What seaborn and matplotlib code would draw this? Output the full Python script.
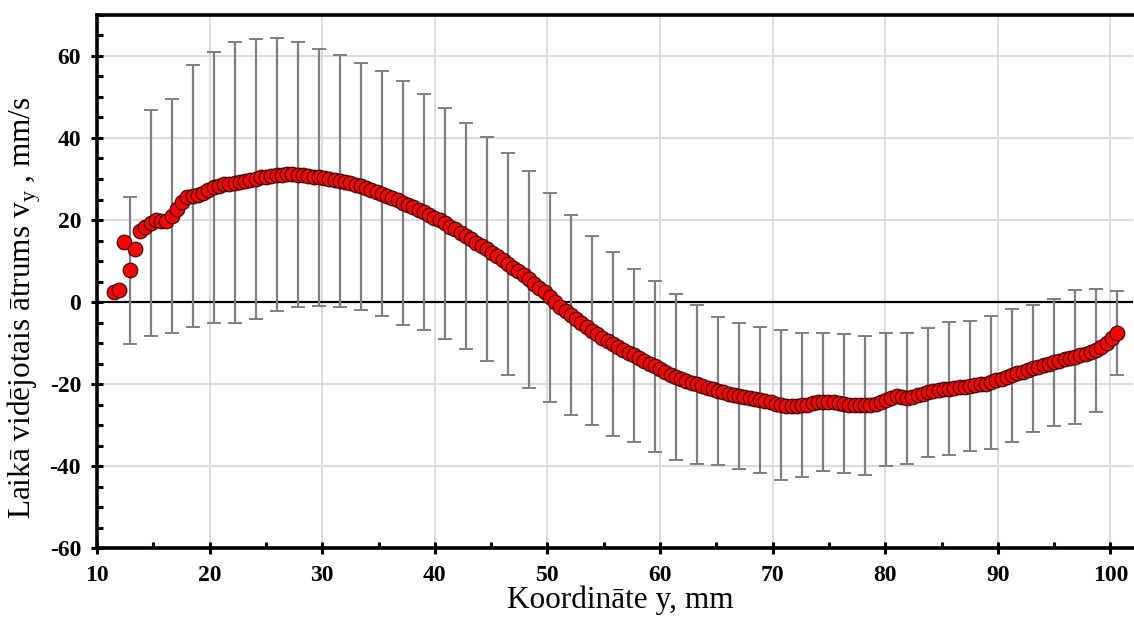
import numpy as np
import pandas as pd
import matplotlib
matplotlib.use("Agg")
import matplotlib.pyplot as plt
import seaborn as sns
from matplotlib.ticker import MultipleLocator

# Measurement grid: first coordinate, step and count (mm)
x_start = 11.5
x_step = 0.4665
# Time-averaged velocity v_y at each coordinate, mm/s
vy = [
    2.5, 3.0, 14.7, 7.7, 13.0, 17.4, 18.2, 19.3, 20.1, 19.8,
    19.7, 21.0, 22.7, 24.3, 25.6, 25.9, 26.2, 26.6, 27.2, 28.0,
    28.4, 28.7, 28.9, 29.1, 29.3, 29.6, 29.8, 30.0, 30.4, 30.6,
    30.8, 31.0, 31.05, 31.1, 31.1, 31.0, 30.9, 30.8, 30.6, 30.4,
    30.2, 30.0, 29.8, 29.5, 29.3, 29.0, 28.6, 28.2, 27.8, 27.3,
    26.9, 26.4, 25.9, 25.3, 24.8, 24.2, 23.7, 23.1, 22.5, 21.9,
    21.2, 20.6, 19.9, 19.2, 18.4, 17.7, 16.9, 16.1, 15.3, 14.5,
    13.7, 12.9, 12.0, 11.2, 10.3, 9.3, 8.4, 7.5, 6.5, 5.5,
    4.4, 3.4, 2.4, 1.2, 0.0, -1.2, -2.2, -3.2, -4.2, -5.2,
    -6.1, -7.0, -7.9, -8.7, -9.5, -10.2, -10.9, -11.7, -12.4, -13.0,
    -13.7, -14.4, -15.0, -15.7, -16.4, -17.1, -17.7, -18.3, -18.9, -19.3,
    -19.7, -20.1, -20.6, -21.0, -21.3, -21.7, -22.0, -22.4, -22.7, -22.9,
    -23.2, -23.4, -23.6, -23.8, -24.1, -24.5, -24.8, -25.1, -25.3, -25.4,
    -25.4, -25.2, -25.0, -24.7, -24.5, -24.4, -24.3, -24.4, -24.6, -24.8,
    -25.0, -25.1, -25.2, -25.2, -25.1, -24.8, -24.3, -23.8, -23.3, -23.0,
    -23.2, -23.5, -23.2, -22.7, -22.4, -22.0, -21.8, -21.5, -21.3, -21.1,
    -21.0, -20.8, -20.7, -20.5, -20.3, -20.1, -19.9, -19.6, -19.1, -18.7,
    -18.3, -17.9, -17.4, -17.0, -16.6, -16.2, -15.8, -15.4, -15.1, -14.7,
    -14.4, -14.0, -13.7, -13.4, -13.0, -12.6, -12.2, -11.8, -11.0, -10.0,
    -8.9, -7.5,
]
# Standard deviation, given at every 4th point starting from the 4th
err_first = 3
err_every = 4
vy_std = [
    18.0, 27.5, 28.6, 32.0, 33.0, 34.2, 34.1, 33.3, 32.3, 31.4,
    30.7, 30.1, 29.9, 29.8, 28.8, 28.2, 27.6, 27.3, 27.0, 26.5,
    25.5, 24.4, 23.0, 22.5, 21.1, 20.8, 20.3, 19.3, 18.0, 17.9,
    17.8, 18.3, 17.6, 16.9, 17.0, 16.9, 16.3, 16.0, 15.7, 16.3,
    15.8, 16.2, 16.2, 15.5, 15.5, 16.3, 15.0, 10.3,
]
x_ticks = [10, 20, 30, 40, 50, 60, 70, 80, 90, 100]
y_ticks = [-60, -40, -20, 0, 20, 40, 60]

coord = x_start + x_step * np.arange(len(vy))
df = pd.DataFrame({"y": coord, "vy": vy})
err_idx = np.arange(err_first, len(vy), err_every)[: len(vy_std)]
err_df = pd.DataFrame({"y": coord[err_idx], "vy": np.array(vy)[err_idx], "sd": vy_std})

sns.set_theme(style="white")
plt.rcParams["font.family"] = ["Liberation Serif", "DejaVu Serif"]
plt.rcParams["mathtext.fontset"] = "custom"
plt.rcParams["mathtext.rm"] = "Liberation Serif"
plt.rcParams["axes.unicode_minus"] = False
plt.rcParams["text.color"] = "black"
plt.rcParams["axes.labelcolor"] = "black"
plt.rcParams["xtick.color"] = "black"
plt.rcParams["ytick.color"] = "black"

fig, ax = plt.subplots(figsize=(11.34, 6.24), dpi=100)
fig.subplots_adjust(left=97 / 1134, right=1133 / 1134, top=1 - 15 / 624, bottom=1 - 548 / 624)

ax.set_xlim(10, 102)
ax.set_ylim(-60, 70)

ax.grid(True, which="major", color="#d9d9d9", linewidth=1.3, zorder=0)
ax.axhline(0, color="black", linewidth=1.6, zorder=1)

ax.errorbar(err_df["y"], err_df["vy"], yerr=err_df["sd"], fmt="none",
            ecolor="#7f7f7f", elinewidth=1.6, capsize=5, capthick=1.4, zorder=2)

sns.scatterplot(data=df, x="y", y="vy", ax=ax, s=110, color="#ff0000",
                edgecolor="#3b0a0a", linewidth=0.9, zorder=3, legend=False)

ax.xaxis.set_major_locator(plt.FixedLocator(x_ticks))
ax.yaxis.set_major_locator(plt.FixedLocator(y_ticks))
ax.xaxis.set_minor_locator(MultipleLocator(5))
ax.yaxis.set_minor_locator(MultipleLocator(5))
ax.tick_params(which="major", direction="inout", length=9, width=2.2, color="black",
               labelsize=17, bottom=True, left=True)
ax.tick_params(axis="x", which="major", pad=8)
ax.tick_params(axis="y", which="major", pad=7)
ax.tick_params(which="minor", direction="in", length=4, width=2.2, color="black",
               bottom=True, left=True)
for lab in ax.get_xticklabels() + ax.get_yticklabels():
    lab.set_fontweight("bold")

for side in ["left", "bottom", "top"]:
    ax.spines[side].set_color("black")
    ax.spines[side].set_linewidth(2.6)
ax.spines["right"].set_visible(False)

ax.set_xlabel("Koordināte y, mm", fontsize=22.5)
ax.set_ylabel(r"Laikā vidējotais ātrums v$_\mathregular{y}$ , mm/s", fontsize=22.5)
ax.xaxis.set_label_coords(0.505, -0.071)
ax.yaxis.set_label_coords(-0.052, 0.45)

fig.savefig("out.png", dpi=100)
